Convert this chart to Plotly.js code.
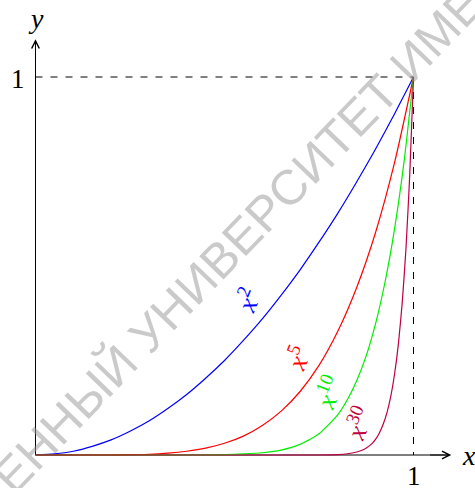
<!DOCTYPE html>
<html>
<head>
<meta charset="utf-8">
<script src="https://cdn.plot.ly/plotly-3.0.1.min.js"></script>
<style>html,body{margin:0;padding:0;background:#fff;}#chart{width:475px;height:488px;}</style>
</head>
<body>
<div id="chart"></div>
<script>
// Values
const xs = [0,0.05,0.1,0.15,0.2,0.25,0.3,0.35,0.4,0.45,0.5,0.55,0.6,0.65,0.7,0.75,0.8,0.85,0.9,0.95,1];
const yPow2 = [0,0.003,0.01,0.023,0.04,0.063,0.09,0.123,0.16,0.203,0.25,0.303,0.36,0.423,0.49,0.563,0.64,0.723,0.81,0.903,1];
const yPow5 = [0,0,0,0,0,0.001,0.002,0.005,0.01,0.018,0.031,0.05,0.078,0.116,0.168,0.237,0.328,0.444,0.59,0.774,1];
const xs10 = [0,0.1,0.2,0.3,0.4,0.45,0.5,0.55,0.6,0.65,0.7,0.75,0.8,0.825,0.85,0.875,0.9,0.925,0.95,0.975,1];
const yPow10 = [0,0,0,0,0,0,0.001,0.003,0.006,0.013,0.028,0.056,0.107,0.146,0.197,0.263,0.349,0.459,0.599,0.776,1];
const xs30 = [0,0.2,0.4,0.6,0.7,0.75,0.8,0.83,0.85,0.87,0.89,0.9,0.91,0.92,0.93,0.94,0.95,0.96,0.97,0.98,0.99,1];
const yPow30 = [0,0,0,0,0,0,0.001,0.004,0.008,0.015,0.03,0.042,0.059,0.082,0.113,0.156,0.215,0.294,0.401,0.545,0.74,1];
const curveLabels = ['<i>x</i><sup>2</sup>','<i>x</i><sup>5</sup>','<i>x</i><sup>10</sup>','<i>x</i><sup>30</sup>'];
const tickLabel = '1';
const watermark = 'ЕННЫЙ УНИВЕРСИТЕТ ИМЕ';

const cBlue = '#0000ff', cRed = '#ff0000', cGreen = '#00ee00', cPurple = '#bf0040';
const serif = 'Liberation Serif, Times New Roman, serif';

function curve(x, y, color) {
  return {x: x, y: y, type: 'scatter', mode: 'lines',
    line: {color: color, width: 1.2, shape: 'spline', smoothing: 0.6},
    hoverinfo: 'skip'};
}
const traces = [
  curve(xs, yPow2, cBlue),
  curve(xs, yPow5, cRed),
  curve(xs10, yPow10, cGreen),
  curve(xs30, yPow30, cPurple)
];

function lbl(text, x, y, color, ang) {
  return {text: text, x: x, y: y, xref: 'x', yref: 'y', showarrow: false,
    textangle: ang, font: {family: serif, size: 27, color: color},
    xanchor: 'center', yanchor: 'middle'};
}
function arrow(x, y, ax, ay) {
  return {text: '', x: x, y: y, ax: ax, ay: ay, xref: 'x', yref: 'y', axref: 'x', ayref: 'y',
    showarrow: true, arrowhead: 5, arrowsize: 1.5, arrowwidth: 1, arrowcolor: '#000',
    standoff: 0, startstandoff: 0};
}

const layout = {
  width: 475, height: 488,
  margin: {l: 0, r: 0, t: 0, b: 0, pad: 0},
  paper_bgcolor: '#ffffff', plot_bgcolor: '#ffffff',
  showlegend: false,
  xaxis: {range: [-0.0939, 1.1627], visible: false, fixedrange: true},
  yaxis: {range: [-0.0873, 1.2037], visible: false, fixedrange: true},
  shapes: [
    {type: 'line', xref: 'x', yref: 'y', x0: 0, y0: 0, x1: 1.09, y1: 0, layer: 'below', line: {color: '#000', width: 1}},
    {type: 'line', xref: 'x', yref: 'y', x0: 0, y0: 0, x1: 0, y1: 1.09, layer: 'below', line: {color: '#000', width: 1}},
    {type: 'line', xref: 'x', yref: 'y', x0: 0, y0: 1, x1: 1, y1: 1, layer: 'below', line: {color: '#000', width: 1, dash: '7px,8px'}},
    {type: 'line', xref: 'x', yref: 'y', x0: 1, y0: 1, x1: 1, y1: 0, layer: 'below', line: {color: '#000', width: 1, dash: '7px,8px'}}
  ],
  annotations: [
    {text: watermark, xref: 'paper', yref: 'paper', x: 238/475, y: 1 - 240/488,
     xanchor: 'center', yanchor: 'middle', showarrow: false, textangle: -46,
     font: {family: 'Liberation Sans, Arial, sans-serif', size: 49, color: 'rgba(150,150,150,0.5)'}},
    arrow(1.10, 0, 1.04, 0),
    arrow(0, 1.10, 0, 1.04),
    {text: tickLabel, x: 1.0, y: -0.056, xref: 'x', yref: 'y', showarrow: false,
     font: {family: serif, size: 27, color: '#000'}, xanchor: 'center', yanchor: 'middle'},
    {text: tickLabel, x: -0.0476, y: 0.9947, xref: 'x', yref: 'y', showarrow: false,
     font: {family: serif, size: 27, color: '#000'}, xanchor: 'center', yanchor: 'middle'},
    {text: '<i>x</i>', x: 1.147, y: 0.0, xref: 'x', yref: 'y', showarrow: false,
     font: {family: serif, size: 28, color: '#000'}, xanchor: 'center', yanchor: 'middle'},
    {text: '<i>y</i>', x: 0.0013, y: 1.156, xref: 'x', yref: 'y', showarrow: false,
     font: {family: serif, size: 28, color: '#000'}, xanchor: 'center', yanchor: 'middle'},
    lbl(curveLabels[0], 0.5595, 0.410, cBlue, -68),
    lbl(curveLabels[1], 0.6918, 0.2566, cRed, -68),
    lbl(curveLabels[2], 0.7738, 0.1667, cGreen, -68),
    lbl(curveLabels[3], 0.8532, 0.0847, cPurple, -68)
  ]
};

Plotly.newPlot('chart', traces, layout, {displayModeBar: false, staticPlot: true});
</script>
</body>
</html>
